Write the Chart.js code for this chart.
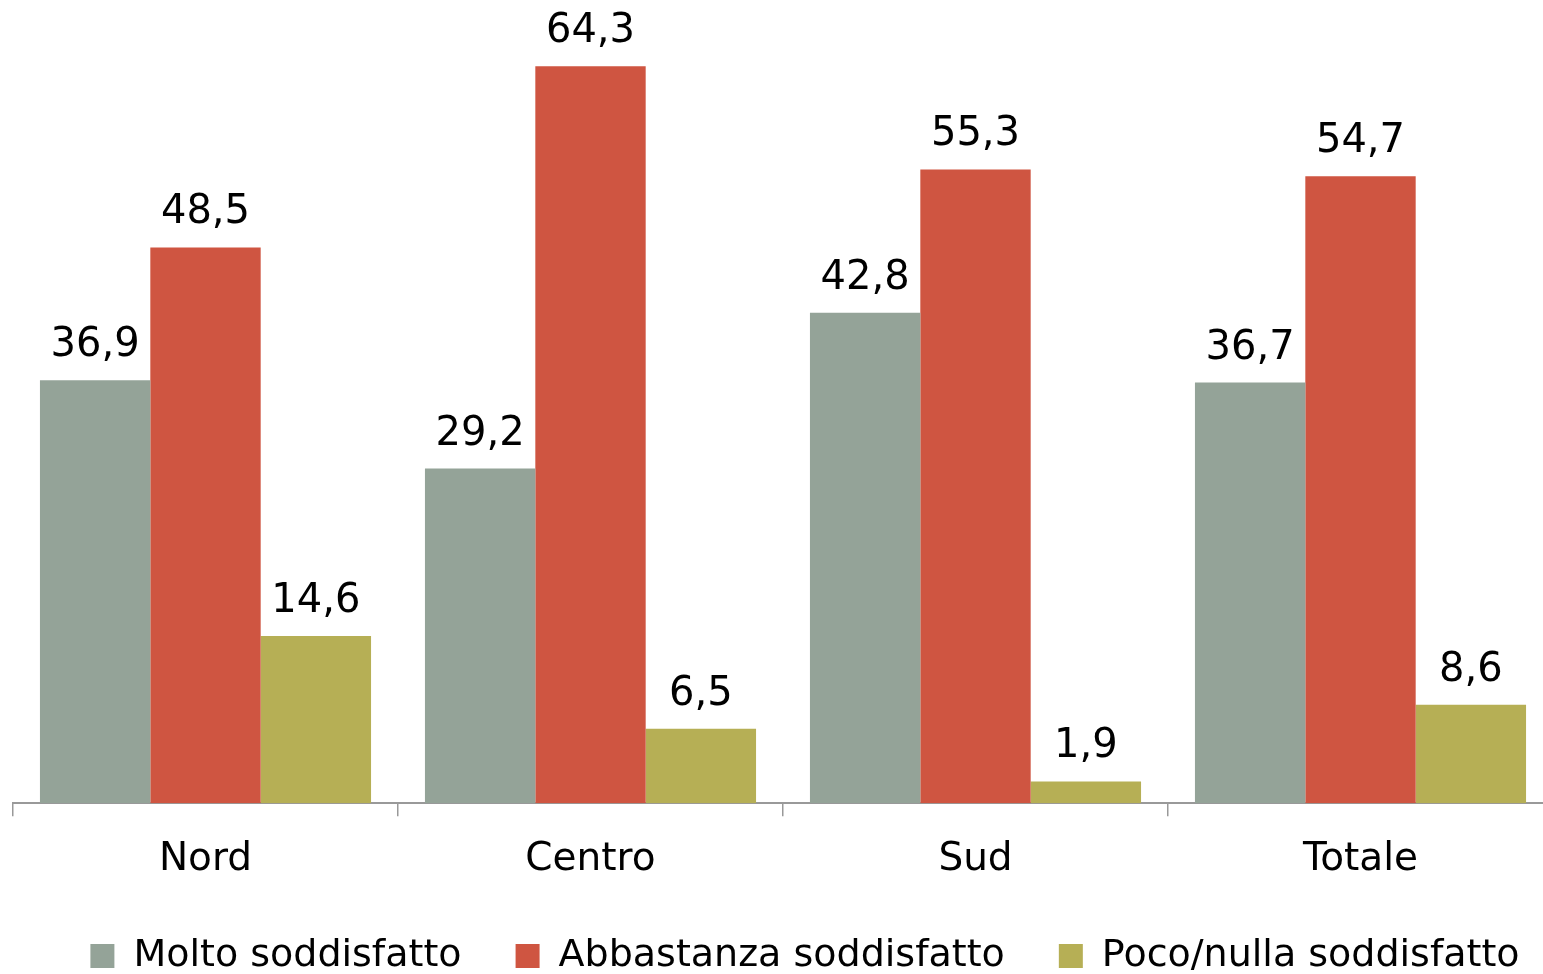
<!DOCTYPE html>
<html>
<head>
<meta charset="utf-8">
<script src="https://cdn.jsdelivr.net/npm/chart.js@4/dist/chart.umd.min.js"></script>
<style>
  html, body { margin: 0; padding: 0; background: #fff; overflow: hidden; width: 1543px; height: 974px; }
  #wrap { position: absolute; left: 0; top: 0; width: 1608px; height: 1007px; }
</style>
</head>
<body>
<div id="wrap"><canvas id="c"></canvas></div>
<script>
const categories = ['Nord', 'Centro', 'Sud', 'Totale'];
const seriesNames = ['Molto soddisfatto', 'Abbastanza soddisfatto', 'Poco/nulla soddisfatto'];
const molto = [36.9, 29.2, 42.8, 36.7];
const abbastanza = [48.5, 64.3, 55.3, 54.7];
const poco = [14.6, 6.5, 1.9, 8.6];
const colors = ['#94A398', '#CF5541', '#B6AF55'];

const FONT = '"DejaVu Sans", sans-serif';

const valueLabels = {
  id: 'valueLabels',
  afterDatasetsDraw(chart) {
    const ctx = chart.ctx;
    ctx.save();
    ctx.font = '40px ' + FONT;
    ctx.fillStyle = '#000';
    ctx.textAlign = 'center';
    ctx.textBaseline = 'alphabetic';
    chart.data.datasets.forEach((ds, i) => {
      const meta = chart.getDatasetMeta(i);
      meta.data.forEach((bar, j) => {
        const txt = ds.data[j].toFixed(1).replace('.', ',');
        ctx.fillText(txt, bar.x, bar.y - 24);
      });
    });
    ctx.restore();
  }
};

const legendShift = {
  id: 'legendShift',
  beforeDraw(chart) {
    const lg = chart.legend;
    const dx = 22, dy = -20;
    lg.left += dx; lg.right += dx;
    lg.top += dy; lg.bottom += dy;
  }
};

new Chart(document.getElementById('c'), {
  type: 'bar',
  data: {
    labels: categories,
    datasets: [
      { label: seriesNames[0], data: molto, backgroundColor: colors[0] },
      { label: seriesNames[1], data: abbastanza, backgroundColor: colors[1] },
      { label: seriesNames[2], data: poco, backgroundColor: colors[2] }
    ]
  },
  options: {
    responsive: true,
    maintainAspectRatio: false,
    animation: false,
    events: [],
    layout: { padding: { left: 13, right: 55, top: 1, bottom: 2 } },
    datasets: { bar: { categoryPercentage: 0.86, barPercentage: 1.0 } },
    scales: {
      x: {
        grid: { display: true, drawOnChartArea: false, drawTicks: true, tickLength: 13, color: '#999', lineWidth: 1.5, offset: true },
        border: { display: true, color: '#999', width: 2 },
        ticks: { color: '#000', font: { family: FONT, size: 39 }, padding: 20 }
      },
      y: { display: false, min: 0, max: 70 }
    },
    plugins: {
      legend: {
        position: 'bottom',
        labels: {
          color: '#000',
          font: { family: FONT, size: 38 },
          boxWidth: 24, boxHeight: 24,
          padding: 54
        }
      },
      tooltip: { enabled: false }
    }
  },
  plugins: [valueLabels, legendShift]
});
</script>
</body>
</html>
